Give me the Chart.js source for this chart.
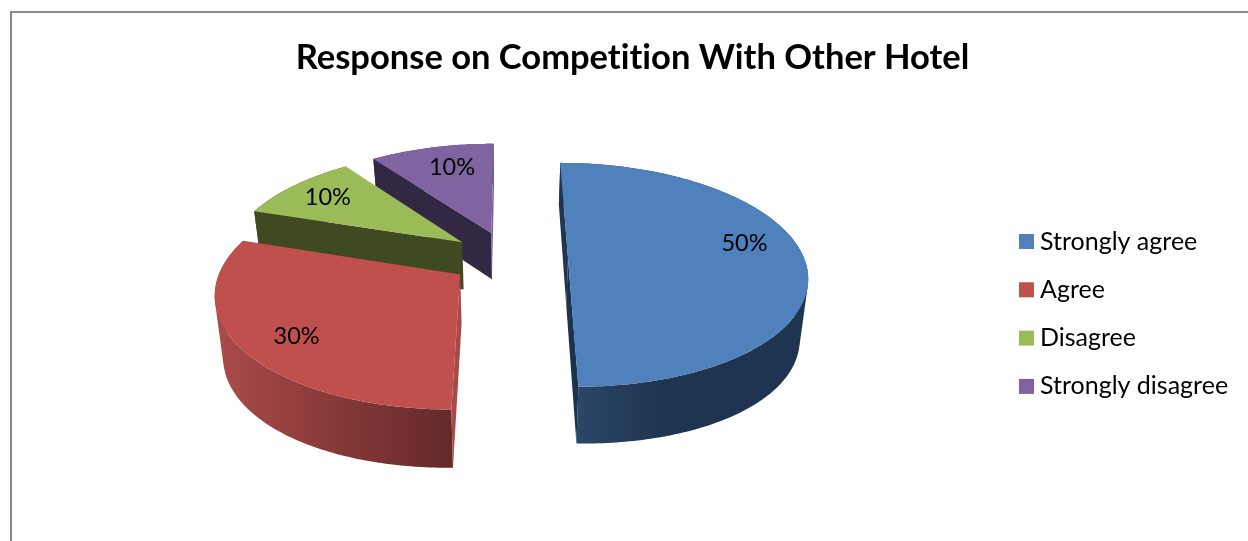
<!DOCTYPE html>
<html>
<head>
<meta charset="utf-8">
<title>Response on Competition With Other Hotel</title>
<script src="https://cdn.jsdelivr.net/npm/chart.js@4"></script>
<style>
  html, body { margin: 0; padding: 0; background: #fff; overflow: hidden; }
  #marco { position: absolute; left: 10px; top: 11px; width: 1300px; height: 600px;
           border-left: 2px solid #868686; border-top: 2px solid #8c8c8c; }
  #grafico { position: absolute; left: 0; top: 0; }
</style>
</head>
<body>
<div id="marco"></div>
<canvas id="grafico" width="1248" height="541"></canvas>
<script>
const categorias = ["Strongly agree", "Agree", "Disagree", "Strongly disagree"];
const porcentajes = [50, 30, 10, 10];
const coloresCara = ["#4f81bd", "#c0504d", "#9bbb59", "#8064a2"];

// caras de corte de cada porcion: [inicio, fin]
const coloresCorte = [
  ["#1f3552", "#1c3350"],
  ["#a84b48", "#662a2a"],
  ["#404a22", "#84a04a"],
  ["#332843", "#7a5f9c"]
];
// degradado de la pared exterior: [color izquierda, color derecha]
const coloresPared = [
  ["#2f4b6e", "#1f3450"],
  ["#a84a47", "#642929"],
  ["#404a22", "#404a22"],
  ["#332843", "#332843"]
];
// donde va cada etiqueta dentro de su porcion
const etiquetaRadio = [0.78, 0.79, 0.785, 0.74];
const etiquetaGiro = [-10, -3.4, 0, 2.4];

// camara: disco en un plano visto en perspectiva
const RADIO = 236;
const EXPLOSION = 59;
const ALTO = 48;
const FUGA_X = 509;
const FUGA_Y = -472;
const DIST_Y = 730;
const DIST = 1575;

// leyenda
const LEYENDA_X = 1019;
const LEYENDA_Y = 241.5;
const LEYENDA_PASO = 48.3;
const LEYENDA_CUADRO = 15;

// (x, y) en el plano del disco, y hacia el observador; z hacia abajo
function proyectar(x, y, z) {
  const w = 1 / (1 - y / DIST);
  const f = z / ALTO;
  const encoge = 1 - 0.028 * f;
  // la base baja un poco mas hacia los lados
  const lados = 7 * f * (x / RADIO) * (x / RADIO);
  return [FUGA_X + x * w * encoge, FUGA_Y + (DIST_Y + z) * w + lados];
}

function centroPorcion(arco) {
  const medio = (arco.startAngle + arco.endAngle) / 2;
  return [Math.cos(medio) * EXPLOSION, Math.sin(medio) * EXPLOSION];
}

function puntosBorde(arco, z) {
  const [cx, cy] = centroPorcion(arco);
  const pasos = Math.ceil((arco.endAngle - arco.startAngle) * 60);
  let puntos = [];
  for (let i = 0; i <= pasos; i++) {
    const a = arco.startAngle + (arco.endAngle - arco.startAngle) * i / pasos;
    puntos.push(proyectar(cx + Math.cos(a) * RADIO, cy + Math.sin(a) * RADIO, z));
  }
  return puntos;
}

function subtrazo(ctx, puntos) {
  puntos.forEach((p, i) => i === 0 ? ctx.moveTo(p[0], p[1]) : ctx.lineTo(p[0], p[1]));
  ctx.closePath();
}

function rellenar(ctx, puntos, color) {
  ctx.beginPath();
  subtrazo(ctx, puntos);
  ctx.fillStyle = color;
  ctx.fill();
}

// area con signo, para saber hacia donde mira una cara
function area(puntos) {
  let suma = 0;
  puntos.forEach((p, i) => {
    const q = puntos[(i + 1) % puntos.length];
    suma += p[0] * q[1] - q[0] * p[1];
  });
  return suma / 2;
}

const pastel3d = {
  id: "pastel3d",
  beforeDraw(chart) {
    // sin ligaduras en el titulo
    chart.ctx.textRendering = "optimizeSpeed";
  },
  beforeDatasetDraw(chart) {
    const { ctx } = chart;
    const arcos = chart.getDatasetMeta(0).data;

    // de atras hacia adelante
    for (let i = arcos.length - 1; i >= 0; i--) {
      const arco = arcos[i];
      const [cx, cy] = centroPorcion(arco);
      const arriba = puntosBorde(arco, 0);
      const abajo = puntosBorde(arco, ALTO);
      const puntaArriba = proyectar(cx, cy, 0);
      const puntaAbajo = proyectar(cx, cy, ALTO);
      const ultimo = arriba.length - 1;

      // pared exterior: un solo trazo con todos los tramos en el mismo sentido
      const xs = abajo.map(p => p[0]);
      const minX = Math.min(...xs);
      const maxX = Math.max(...xs);
      const grad = ctx.createLinearGradient(minX, 0, i === 0 ? minX + 100 : maxX, 0);
      grad.addColorStop(0, coloresPared[i][0]);
      grad.addColorStop(1, coloresPared[i][1]);
      ctx.beginPath();
      for (let k = 0; k < ultimo; k++) {
        const tramo = [arriba[k], arriba[k + 1], abajo[k + 1], abajo[k]];
        subtrazo(ctx, area(tramo) < 0 ? tramo.reverse() : tramo);
      }
      ctx.fillStyle = grad;
      ctx.fill();

      // caras de corte, solo las que miran a la camara
      const corteInicio = [puntaArriba, arriba[0], abajo[0], puntaAbajo];
      const corteFin = [puntaArriba, arriba[ultimo], abajo[ultimo], puntaAbajo];
      if (area(corteInicio) < 0) rellenar(ctx, corteInicio, coloresCorte[i][0]);
      if (area(corteFin) > 0) rellenar(ctx, corteFin, coloresCorte[i][1]);

      // cara superior
      rellenar(ctx, [puntaArriba].concat(arriba), coloresCara[i]);
    }
    return false;
  },
  afterDatasetsDraw(chart) {
    const { ctx } = chart;
    const arcos = chart.getDatasetMeta(0).data;
    ctx.save();
    ctx.fillStyle = "#000";
    ctx.textBaseline = "middle";

    ctx.font = "23.5px Lato";
    ctx.textAlign = "center";
    arcos.forEach((arco, i) => {
      const [cx, cy] = centroPorcion(arco);
      const a = (arco.startAngle + arco.endAngle) / 2 + etiquetaGiro[i] * Math.PI / 180;
      const r = RADIO * etiquetaRadio[i];
      const p = proyectar(cx + Math.cos(a) * r, cy + Math.sin(a) * r, 0);
      ctx.fillText(porcentajes[i] + "%", p[0], p[1]);
    });

    // leyenda a la derecha
    ctx.font = "25px Lato";
    ctx.textAlign = "left";
    categorias.forEach((nombre, i) => {
      const y = LEYENDA_Y + i * LEYENDA_PASO;
      ctx.fillStyle = coloresCara[i];
      ctx.fillRect(LEYENDA_X, y - LEYENDA_CUADRO / 2, LEYENDA_CUADRO, LEYENDA_CUADRO);
      ctx.fillStyle = "#000";
      ctx.fillText(nombre, LEYENDA_X + LEYENDA_CUADRO + 6, y);
    });
    ctx.restore();
  }
};

new Chart(document.getElementById("grafico").getContext("2d"), {
  type: "pie",
  data: {
    labels: categorias,
    datasets: [{ data: porcentajes, backgroundColor: coloresCara, borderWidth: 0 }]
  },
  options: {
    responsive: false,
    animation: false,
    layout: { padding: { left: 17, right: 0, top: 20, bottom: 0 } },
    plugins: {
      title: {
        display: true,
        text: "Response on Competition With Other Hotel",
        color: "#000",
        font: { family: "Lato", size: 34.5, weight: "bold" },
        padding: { top: 17, bottom: 10 }
      },
      legend: { display: false },
      tooltip: { enabled: false }
    }
  },
  plugins: [pastel3d]
});
</script>
</body>
</html>
